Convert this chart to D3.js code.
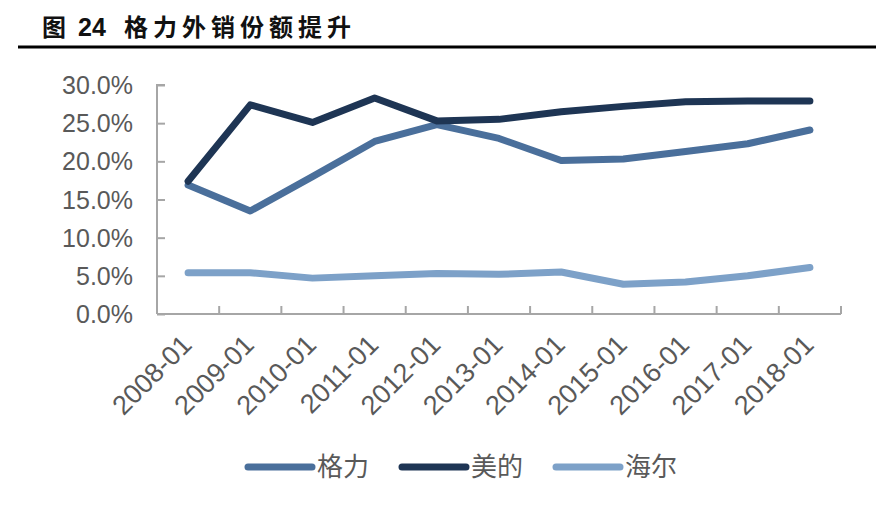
<!DOCTYPE html>
<html>
<head>
<meta charset="utf-8">
<script src="https://cdn.jsdelivr.net/npm/d3@7"></script>
<style>
  body { margin: 0; background: #fff; }
  svg { display: block; }
</style>
</head>
<body>
<svg id="chart"></svg>
<script>
// données (%)
const years = ["2008-01", "2009-01", "2010-01", "2011-01", "2012-01", "2013-01",
               "2014-01", "2015-01", "2016-01", "2017-01", "2018-01"];
const gree  = [16.9, 13.5, 18.0, 22.6, 24.8, 23.0, 20.1, 20.3, 21.3, 22.3, 24.1];
const midea = [17.4, 27.4, 25.1, 28.3, 25.3, 25.5, 26.5, 27.2, 27.8, 27.9, 27.9];
const haier = [5.4, 5.4, 4.7, 5.0, 5.3, 5.2, 5.5, 3.9, 4.2, 5.0, 6.1];
const yTicks = [0, 5, 10, 15, 20, 25, 30];

const series = [
  { name: "格力", values: gree,  color: "#4a6f9b" },
  { name: "美的", values: midea, color: "#1e3554" },
  { name: "海尔", values: haier, color: "#7da1c8" }
];

const width = 884, height = 518;
const svg = d3.select("#chart").attr("width", width).attr("height", height);

const axisCol = "#a6a6a6";
const textCol = "#595959";

// titre : "图", numéro, puis libellé espacé
const titre = svg.append("text")
  .attr("y", 36)
  .attr("font-family", "'Noto Sans CJK SC', sans-serif")
  .attr("font-weight", "bold")
  .attr("font-size", 24)
  .attr("fill", "#111");
titre.append("tspan").attr("x", 42).text("图");
titre.append("tspan").attr("x", 78)
  .attr("font-family", "'Liberation Sans', Arial, sans-serif")
  .attr("font-size", 25).text("24");
titre.append("tspan").attr("x", 124).attr("letter-spacing", 5).text("格力外销份额提升");

svg.append("line")
  .attr("x1", 18).attr("x2", 876)
  .attr("y1", 47).attr("y2", 47)
  .attr("stroke", "#000")
  .attr("stroke-width", 3);

const x0 = 157, x1 = 841, yTop = 85, yBot = 314;

const x = d3.scaleBand().domain(years).range([x0, x1]);
const y = d3.scaleLinear().domain([0, 30]).range([yBot, yTop]);

// axe Y
const yAxis = svg.append("g")
  .attr("transform", `translate(${x0},0)`)
  .call(d3.axisRight(y).tickValues(yTicks).tickSize(8).tickFormat(""));
yAxis.select(".domain").attr("stroke", axisCol).attr("stroke-width", 2)
  .attr("d", `M8,${yTop}H0V${yBot}`);
yAxis.selectAll(".tick line").attr("stroke", axisCol).attr("stroke-width", 2);

svg.selectAll("text.ylab")
  .data(yTicks)
  .enter().append("text")
  .attr("class", "ylab")
  .attr("x", 133)
  .attr("y", d => y(d))
  .attr("dy", "0.36em")
  .attr("text-anchor", "end")
  .attr("font-family", "'Liberation Sans', Arial, sans-serif")
  .attr("font-size", 25)
  .attr("fill", textCol)
  .text(d => d.toFixed(1) + "%");

// axe X (graduations entre les catégories, vers le haut)
const bounds = d3.range(1, years.length + 1).map(i => x0 + i * x.step());
svg.append("line")
  .attr("x1", x0).attr("x2", x1)
  .attr("y1", yBot).attr("y2", yBot)
  .attr("stroke", axisCol).attr("stroke-width", 2);
svg.selectAll("line.xtick")
  .data(bounds)
  .enter().append("line")
  .attr("class", "xtick")
  .attr("x1", d => d).attr("x2", d => d)
  .attr("y1", yBot).attr("y2", yBot - 8)
  .attr("stroke", axisCol).attr("stroke-width", 2);

svg.selectAll("text.xlab")
  .data(years)
  .enter().append("text")
  .attr("class", "xlab")
  .attr("transform", d => `translate(${x(d) + x.bandwidth() / 2 - 8},${yBot + 19}) rotate(-45)`)
  .attr("text-anchor", "end")
  .attr("dy", "0.7em")
  .attr("font-family", "'Liberation Sans', Arial, sans-serif")
  .attr("font-size", 27)
  .attr("fill", textCol)
  .text(d => d);

// courbes
const line = d3.line()
  .x((d, i) => x(years[i]) + x.bandwidth() / 2)
  .y(d => y(d));

svg.selectAll("path.serie")
  .data(series)
  .enter().append("path")
  .attr("class", "serie")
  .attr("d", d => line(d.values))
  .attr("fill", "none")
  .attr("stroke", d => d.color)
  .attr("stroke-width", 7)
  .attr("stroke-linejoin", "round")
  .attr("stroke-linecap", "round");

// légende
const legX = [248, 402, 556];
const leg = svg.selectAll("g.leg")
  .data(series)
  .enter().append("g")
  .attr("class", "leg")
  .attr("transform", (d, i) => `translate(${legX[i]},467)`);
leg.append("line")
  .attr("x1", 0).attr("x2", 64)
  .attr("stroke", d => d.color)
  .attr("stroke-width", 7)
  .attr("stroke-linecap", "round");
leg.append("text")
  .attr("x", 69)
  .attr("dy", "0.36em")
  .attr("font-family", "'Noto Sans CJK SC', sans-serif")
  .attr("font-size", 26)
  .attr("fill", textCol)
  .text(d => d.name);
</script>
</body>
</html>
